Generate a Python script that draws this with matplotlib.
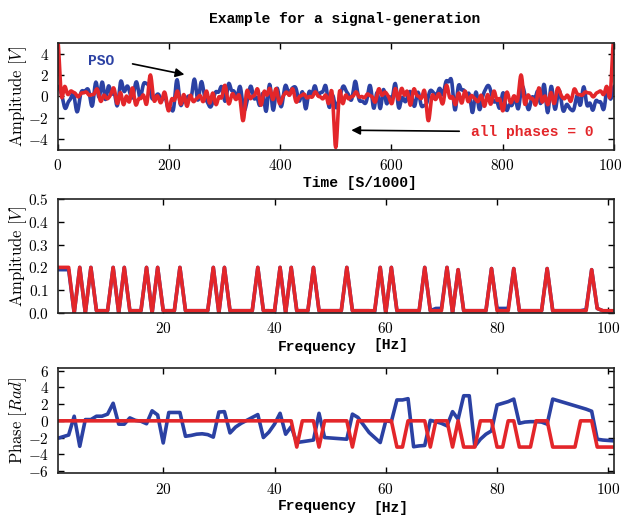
import numpy as np
import matplotlib
matplotlib.use('Agg')
import matplotlib.pyplot as plt
from matplotlib.ticker import FuncFormatter, MultipleLocator

# valores (espectro por frecuencia 1..101 Hz)
freqs = np.arange(1, 102)

amp_zero = [0.20, 0.20, 0.20, 0.00, 0.20, 0.00, 0.20, 0.01, 0.01, 0.01,
            0.20, 0.00, 0.20, 0.01, 0.01, 0.01, 0.20, 0.00, 0.20, 0.01,
            0.01, 0.01, 0.20, 0.01, 0.01, 0.01, 0.01, 0.01, 0.20, 0.00,
            0.20, 0.01, 0.01, 0.01, 0.01, 0.01, 0.20, 0.01, 0.01, 0.01,
            0.20, 0.00, 0.20, 0.01, 0.01, 0.01, 0.20, 0.01, 0.01, 0.01,
            0.01, 0.01, 0.20, 0.01, 0.01, 0.01, 0.01, 0.01, 0.20, 0.00,
            0.20, 0.01, 0.01, 0.01, 0.01, 0.01, 0.20, 0.01, 0.01, 0.01,
            0.20, 0.00, 0.19, 0.01, 0.01, 0.01, 0.01, 0.01, 0.195, 0.01,
            0.01, 0.01, 0.195, 0.01, 0.01, 0.01, 0.01, 0.01, 0.195, 0.01,
            0.01, 0.01, 0.01, 0.01, 0.01, 0.01, 0.19, 0.02, 0.01, 0.01,
            0.01]

amp_pso = [0.19, 0.19, 0.19, 0.00, 0.20, 0.00, 0.20, 0.01, 0.01, 0.01,
           0.20, 0.00, 0.20, 0.01, 0.01, 0.01, 0.20, 0.00, 0.20, 0.01,
           0.01, 0.01, 0.20, 0.01, 0.01, 0.01, 0.01, 0.01, 0.20, 0.00,
           0.20, 0.01, 0.01, 0.01, 0.01, 0.01, 0.20, 0.01, 0.01, 0.005,
           0.20, 0.00, 0.20, 0.01, 0.01, 0.01, 0.20, 0.01, 0.01, 0.01,
           0.01, 0.01, 0.20, 0.01, 0.01, 0.01, 0.01, 0.005, 0.20, 0.00,
           0.20, 0.01, 0.01, 0.01, 0.01, 0.01, 0.20, 0.01, 0.02, 0.02,
           0.20, 0.00, 0.19, 0.01, 0.01, 0.01, 0.01, 0.01, 0.195, 0.02,
           0.02, 0.02, 0.195, 0.01, 0.01, 0.01, 0.01, 0.01, 0.195, 0.01,
           0.01, 0.01, 0.01, 0.01, 0.01, 0.015, 0.19, 0.02, 0.01, 0.00,
           0.00]

phase_pso = [-2.1, -1.9, -1.7, 0.55, -3.05, 0.15, 0.15, 0.55, 0.55, 0.8,
             2.1, -0.4, -0.4, 0.35, 0.05, -0.05, -0.35, 1.2, 0.7, -2.65,
             1.0, 1.0, 1.0, -1.85, -1.75, -1.6, -1.55, -1.65, -1.95, 1.05,
             1.1, -1.45, -0.75, -0.3, 0.05, 0.4, 0.75, -2.0, -1.35, -0.4,
             0.9, -1.6, -0.7, -2.6, -2.5, -2.4, -2.3, 0.9, -2.0, -2.05,
             -2.1, -2.15, -2.2, 0.8, 0.4, -0.5, -1.4, -2.0, -2.6, 0.0,
             -0.1, 2.5, 2.5, 2.65, -3.1, -3.0, -2.95, 0.05, -0.1, -0.3,
             -0.6, 1.1, 0.2, 3.0, 3.0, -3.05, -2.2, -1.6, -1.2, 1.9,
             2.1, 2.3, 2.6, -0.3, -0.15, -0.1, -0.1, -0.15, -0.4, 2.6,
             2.4, 2.2, 2.0, 1.8, 1.6, 1.4, 1.15, -2.2, -2.3, -2.35,
             -2.4]

phase_zero = [0.0] * 43 + [-3.14, 0.0, 0.0, 0.0, -3.14, 0.0, 0.0,
              0.0, 0.0, 0.0, -3.14, 0.0, 0.0, 0.0, 0.0, 0.0, 0.0,
              0.0, -3.14, -3.14, 0.0, 0.0, 0.0, 0.0, -3.14, 0.0, 0.0,
              0.0, -3.14, 0.0, -3.14, -3.14, -3.14, 0.0, 0.0, 0.0, -3.14,
              -3.14, 0.0, 0.0, -3.14, -3.14, -3.14, 0.0, 0.0, 0.0, -3.14,
              -3.14, -3.14, -3.14, -3.14, 0.0, 0.0, 0.0, -3.14, -3.14, -3.14,
              -3.14]

# senal en el tiempo: suma de los cosenos del espectro leido
t = np.arange(0, 1001)


def sintetizar(amps, fases):
    amps = np.asarray(amps)[:, None]
    fases = np.asarray(fases)[:, None]
    return np.sum(amps * np.cos(2 * np.pi * freqs[:, None] * t[None, :] / 1000.0 + fases), axis=0)


sig_pso = sintetizar(amp_pso, phase_pso)
sig_zero = sintetizar(amp_zero, phase_zero)

plt.rcParams['mathtext.fontset'] = 'cm'
blue = '#2b41a3'
red = '#e3262a'
lw = 2.6
mono = dict(family='Liberation Mono', weight='bold', size=10.5)


def fmt_int(v, p):
    return '$%g$' % v


def fmt_dec(v, p):
    return '$%.1f$' % v


def estilo(ax, fmt):
    ax.tick_params(direction='in', top=True, right=True, length=4, width=1,
                   labelsize=11, pad=6)
    ax.xaxis.set_major_formatter(FuncFormatter(fmt_int))
    ax.yaxis.set_major_formatter(FuncFormatter(fmt))
    for s in ax.spines.values():
        s.set_linewidth(1.2)
        s.set_color('#222222')


fig = plt.figure(figsize=(6.21, 5.16), dpi=100)
ax1 = fig.add_axes([0.0926, 0.7093, 0.896, 0.2074])
ax2 = fig.add_axes([0.0926, 0.3934, 0.896, 0.2210])
ax3 = fig.add_axes([0.0926, 0.0827, 0.896, 0.2035])

# panel superior: senal
ax1.plot(t, sig_pso, color=blue, lw=lw)
ax1.plot(t, sig_zero, color=red, lw=lw)
ax1.set_xlim(0, 1000)
ax1.set_ylim(-5, 5)
ax1.xaxis.set_major_locator(MultipleLocator(200))
ax1.yaxis.set_major_locator(MultipleLocator(2))
estilo(ax1, fmt_int)
ax1.text(78, 3.3, 'PSO', color=blue, ha='center', va='center', **mono)
ax1.annotate('', xy=(233, 2.0), xytext=(130, 3.1),
             arrowprops=dict(arrowstyle='-|>', color='black', lw=1.2, mutation_scale=13))
ax1.text(853, -3.3, 'all phases = 0', color=red, ha='center', va='center', **mono)
ax1.annotate('', xy=(523, -3.15), xytext=(727, -3.25),
             arrowprops=dict(arrowstyle='-|>', color='black', lw=1.2, mutation_scale=13))

# panel medio: amplitud
ax2.plot(freqs, amp_pso, color=blue, lw=lw)
ax2.plot(freqs, amp_zero, color=red, lw=lw)
ax2.set_xlim(1, 101)
ax2.set_ylim(0, 0.5)
ax2.xaxis.set_major_locator(MultipleLocator(20))
ax2.yaxis.set_major_locator(MultipleLocator(0.1))
estilo(ax2, fmt_dec)

# panel inferior: fase
ax3.plot(freqs, phase_pso, color=blue, lw=lw)
ax3.plot(freqs, phase_zero, color=red, lw=lw)
ax3.set_xlim(1, 101)
ax3.set_ylim(-2 * np.pi, 2 * np.pi)
ax3.xaxis.set_major_locator(MultipleLocator(20))
ax3.yaxis.set_major_locator(MultipleLocator(2))
estilo(ax3, fmt_int)

# textos
fig.text(0.555, 0.963, 'Example for a signal-generation', ha='center', va='center', **mono)
fig.text(0.58, 0.645, 'Time [S/1000]', ha='center', va='center', **mono)
fig.text(0.51, 0.327, 'Frequency', ha='center', va='center', **mono)
fig.text(0.63, 0.331, '[Hz]', ha='center', va='center', **mono)
fig.text(0.51, 0.019, 'Frequency', ha='center', va='center', **mono)
fig.text(0.63, 0.016, '[Hz]', ha='center', va='center', **mono)

fig.text(0.029, 0.813, r'$\mathrm{Amplitude}\ [V]$', rotation=90, ha='center', va='center', size=12)
fig.text(0.029, 0.504, r'$\mathrm{Amplitude}\ [V]$', rotation=90, ha='center', va='center', size=12)
fig.text(0.029, 0.185, r'$\mathrm{Phase}\ [Rad]$', rotation=90, ha='center', va='center', size=12)

fig.savefig('out.png', dpi=100)
